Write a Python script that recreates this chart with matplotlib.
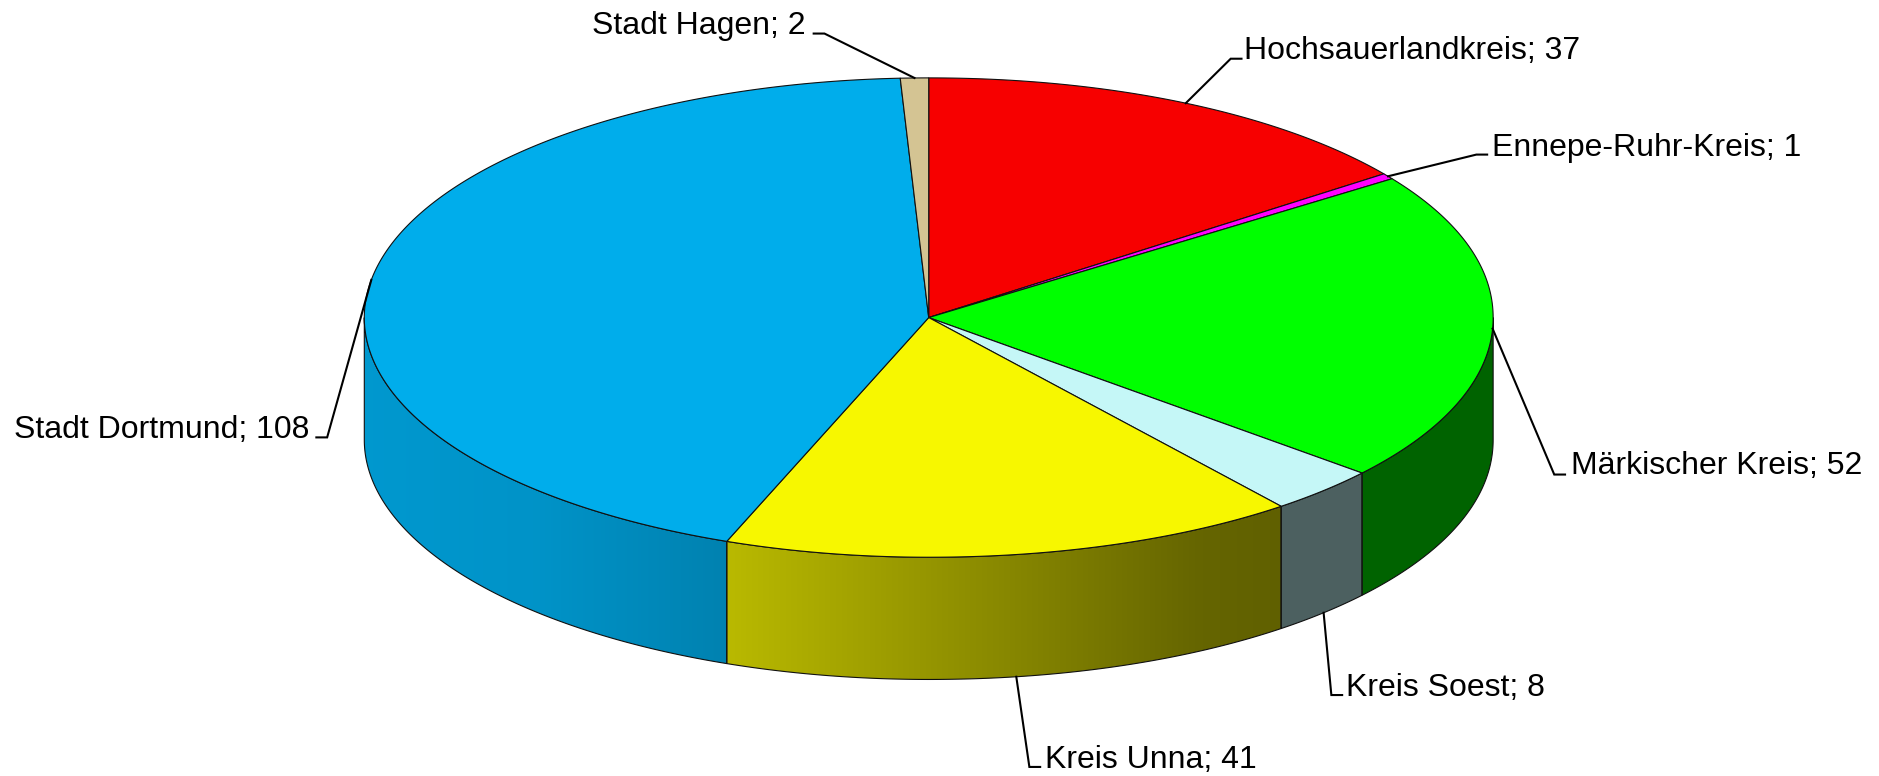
import numpy as np
import matplotlib
matplotlib.use("Agg")
import matplotlib.pyplot as plt
from matplotlib.patches import Polygon

categories = ["Hochsauerlandkreis", "Ennepe-Ruhr-Kreis", "Märkischer Kreis",
              "Kreis Soest", "Kreis Unna", "Stadt Dortmund", "Stadt Hagen"]
values = [37, 1, 52, 8, 41, 108, 2]
colors = ["#F70000", "#FF00FF", "#00FF00", "#C5F7F7", "#F7F700", "#00ADEB", "#D4C493"]

# layout (pixels, y down)
S = 1879 / 1568
CX, CY, RX, RY, DEPTH = 775 * S, 265 * S, 471 * S, 200 * S, 102 * S
BULGE = 0.985
elbows = [(1027, 49), (1232, 129), (1297, 396), (1111, 580), (859, 640), (273, 365), (688, 28)]
label_xy = [(1038, 42.5), (1245, 123.5), (1311, 388.5), (1123, 574), (872, 634), (258, 359), (672, 22)]
aligns = ["left", "left", "left", "left", "left", "right", "right"]
direction = [1, 1, 1, 1, 1, -1, -1]
FONT_PT = 23.0

plt.rcParams["font.family"] = ["Liberation Sans", "DejaVu Sans"]
fig = plt.figure(figsize=(18.79, 7.76), dpi=100, facecolor="white")
ax = fig.add_axes([0, 0, 1, 1])
ax.set_xlim(0, 1879)
ax.set_ylim(776, 0)
ax.axis("off")

vals = np.array(values, float)
edges = np.concatenate([[0], np.cumsum(vals)]) / vals.sum() * 360


def rim(a, dy=0.0):
    r = np.radians(a)
    s, c = np.sin(r), np.cos(r)
    p = np.where(s > 0, BULGE, 1.0)  # right half is very slightly fuller
    return (CX + RX * np.sign(s) * np.abs(s) ** p,
            CY - RY * np.sign(c) * np.abs(c) ** p + dy)


def shade(x):
    # wall darkening with horizontal position
    return np.interp(x, [304 * S, 450 * S, 607 * S, 1000 * S, 1069 * S, 1246 * S],
                     [0.88, 0.85, 0.75, 0.41, 0.39, 0.39])


# side walls, only in the front half (90..270 deg clockwise from top)
for i in range(len(vals)):
    a0, a1 = max(edges[i], 90), min(edges[i + 1], 270)
    if a1 <= a0:
        continue
    t = np.linspace(a0, a1, 200)
    xt, yt = rim(t)
    xb, yb = rim(t[::-1], DEPTH)
    poly = Polygon(np.c_[np.r_[xt, xb], np.r_[yt, yb]], closed=True, fc="none",
                   ec="#101010", lw=0.8, zorder=3)
    ax.add_patch(poly)
    x0, x1 = min(xt.min(), xb.min()), max(xt.max(), xb.max())
    xs = np.linspace(x0, x1, max(int(x1 - x0), 2))
    rgb = np.array(matplotlib.colors.to_rgb(colors[i]))
    img = (shade(xs)[None, :, None] * rgb[None, None, :])
    y0, y1 = min(yt.min(), yb.min()), max(yt.max(), yb.max())
    im = ax.imshow(img, extent=(x0, x1, y1, y0), aspect="auto", zorder=2, interpolation="bilinear")
    clip = Polygon(poly.get_xy(), closed=True, transform=ax.transData)
    im.set_clip_path(clip)
ax.set_xlim(0, 1879)
ax.set_ylim(776, 0)

# top face
for i in range(len(vals)):
    t = np.linspace(edges[i], edges[i + 1], max(int(edges[i + 1] - edges[i]) * 4, 8))
    x, y = rim(t)
    ax.add_patch(Polygon(np.c_[np.r_[CX, x], np.r_[CY, y]], closed=True, fc=colors[i],
                         ec="#101010", lw=0.8, zorder=4, joinstyle="round"))

# labels with leader lines
mids = (edges[:-1] + edges[1:]) / 2
for i, cat in enumerate(categories):
    dy = DEPTH if 100 < mids[i] < 270 else 0
    ax_, ay_ = rim(mids[i], dy)
    ex, ey = elbows[i][0] * S, elbows[i][1] * S
    ax.plot([ax_, ex, ex + direction[i] * 9 * S], [ay_, ey, ey],
            color="black", lw=1.5, zorder=5, solid_joinstyle="miter")
    lx, ly = label_xy[i][0] * S, label_xy[i][1] * S
    ax.text(lx, ly, f"{cat}; {values[i]}", ha=aligns[i], va="center",
            fontsize=FONT_PT, color="black", zorder=6)

fig.savefig("out.png", dpi=100, facecolor="white")
